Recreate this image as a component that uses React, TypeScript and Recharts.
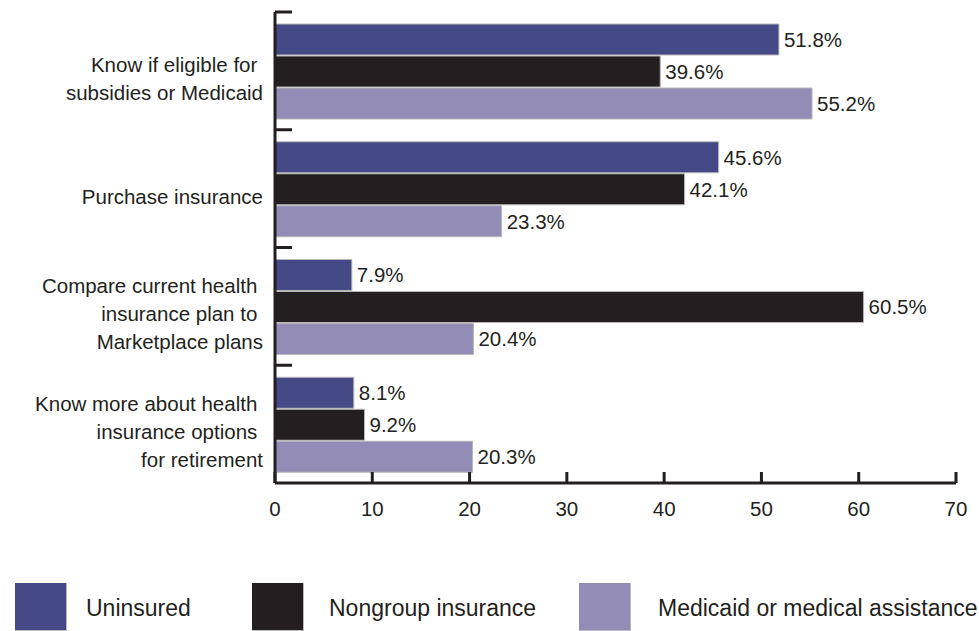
import { BarChart, Bar, XAxis, YAxis, Legend, LabelList } from 'recharts';

// category labels, split the way they wrap in the figure
const categoryLines = [
    ['Know if eligible for ', 'subsidies or Medicaid'],
    ['Purchase insurance'],
    ['Compare current health ', 'insurance plan to ', 'Marketplace plans'],
    ['Know more about health ', 'insurance options ', 'for retirement'],
];
const categories = categoryLines.map((lines) => lines.map((l) => l.trim()).join(' '));

const uninsured = [51.8, 45.6, 7.9, 8.1];
const nongroup = [39.6, 42.1, 60.5, 9.2];
const medicaid = [55.2, 23.3, 20.4, 20.3];

const seriesNames = ['Uninsured', 'Nongroup insurance', 'Medicaid or medical assistance'];
const seriesKeys = ['uninsured', 'nongroup', 'medicaid'];
const seriesColors = ['#454a87', '#231f20', '#938cb6'];

const xTicks = [0, 10, 20, 30, 40, 50, 60, 70];

const data = categories.map((name, i) => ({
    name,
    uninsured: uninsured[i],
    nongroup: nongroup[i],
    medicaid: medicaid[i],
}));

const W = 979;
const H = 631;
const TOP = 12;
const RIGHT = 23;
const Y_AXIS_W = 275;
const X_AXIS_H = 100;
const LEGEND_H = 48;
const BAND = (H - TOP - X_AXIS_H - LEGEND_H) / categories.length;
const LABEL_GAP = 12;
const INK = '#231f20';
const FONT = '"Liberation Sans", Arial, sans-serif';
const FS = 20.5;

interface TickProps {
    x?: number;
    y?: number;
    index?: number;
}

function CategoryTick({ x = 0, y = 0, index = 0 }: TickProps) {
    const lines = categoryLines[index];
    const n = lines.length;
    const axisX = x + LABEL_GAP;
    return (
        <g>
            <line
                x1={axisX}
                x2={axisX + 17}
                y1={y - BAND / 2}
                y2={y - BAND / 2}
                stroke={INK}
                strokeWidth={3}
            />
            <text
                textAnchor="end"
                fontSize={FS}
                fontFamily={FONT}
                fill={INK}
                style={{ whiteSpace: 'pre' }}
            >
                {lines.map((line, i) => (
                    <tspan key={i} x={x} y={y + (i - (n - 1) / 2) * 28 + 15}>
                        {line}
                    </tspan>
                ))}
            </text>
        </g>
    );
}

const legendBoxX = [15, 252, 579];
const legendTextX = [86, 329, 658];

function LegendContent() {
    return (
        <div style={{ position: 'relative', width: W, height: LEGEND_H, fontFamily: FONT }}>
            {seriesNames.map((name, i) => (
                <div key={name}>
                    <div
                        style={{
                            position: 'absolute',
                            left: legendBoxX[i],
                            top: 0,
                            width: 51,
                            height: 47,
                            background: seriesColors[i],
                            borderRight: '1px solid #bbbbbb',
                            borderBottom: '1px solid #bbbbbb',
                        }}
                    />
                    <span
                        style={{
                            position: 'absolute',
                            left: legendTextX[i],
                            top: 13,
                            fontSize: 23,
                            lineHeight: '24px',
                            color: INK,
                            whiteSpace: 'nowrap',
                        }}
                    >
                        {name}
                    </span>
                </div>
            ))}
        </div>
    );
}

export default function App() {
    return (
        <div style={{ position: 'fixed', left: 0, top: 0, width: W, height: H, background: '#fff' }}>
            <BarChart
                width={W}
                height={H}
                data={data}
                layout="vertical"
                margin={{ top: TOP, right: RIGHT, left: 0, bottom: 0 }}
                barCategoryGap={12}
                barGap={1}
                style={{ fontFamily: FONT }}
            >
                <XAxis
                    type="number"
                    domain={[0, 70]}
                    ticks={xTicks}
                    height={X_AXIS_H}
                    tickSize={-11}
                    tickMargin={29}
                    axisLine={{ stroke: INK, strokeWidth: 3 }}
                    tickLine={{ stroke: INK, strokeWidth: 3 }}
                    tick={{ fill: INK, fontSize: FS, fontFamily: FONT }}
                />
                <YAxis
                    type="category"
                    dataKey="name"
                    width={Y_AXIS_W}
                    tickSize={0}
                    tickMargin={LABEL_GAP}
                    tickLine={false}
                    axisLine={{ stroke: INK, strokeWidth: 3 }}
                    tick={<CategoryTick />}
                    interval={0}
                />
                <Legend
                    verticalAlign="bottom"
                    height={LEGEND_H}
                    wrapperStyle={{ left: 0, bottom: 0, width: W, height: LEGEND_H }}
                    content={<LegendContent />}
                />
                {seriesKeys.map((key, i) => (
                    <Bar
                        key={key}
                        dataKey={key}
                        name={seriesNames[i]}
                        fill={seriesColors[i]}
                        stroke="#b8b8b8"
                        strokeWidth={1}
                        isAnimationActive={false}
                    >
                        <LabelList
                            dataKey={key}
                            position="right"
                            offset={5}
                            formatter={(v: number) => `${v.toFixed(1)}%`}
                            fill={INK}
                            fontSize={FS}
                            fontFamily={FONT}
                        />
                    </Bar>
                ))}
            </BarChart>
        </div>
    );
}
